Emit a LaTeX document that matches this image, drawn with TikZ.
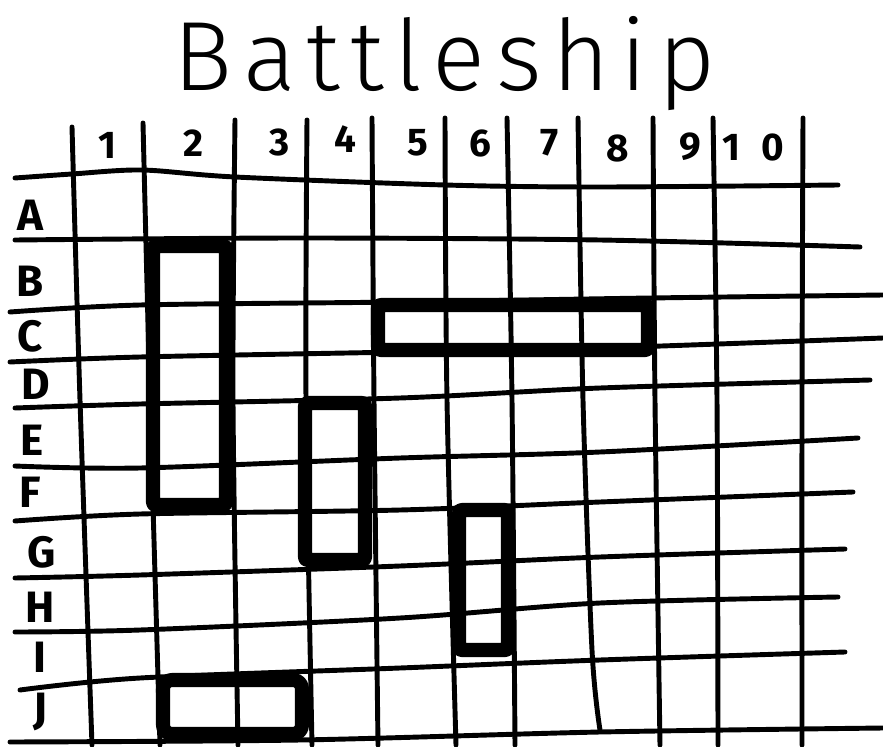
\documentclass[tikz,border=0pt]{standalone}
\usepackage{fontspec}
\setmainfont{Fira Sans}
\newfontfamily\titlefont{Fira Sans Light}

\begin{document}
\begin{tikzpicture}[x=0.02cm,y=-0.02cm,
  gridline/.style={line width=2.8pt,line cap=round,line join=round},
  shipbox/.style={line width=8pt,line join=round,rounded corners=1.5pt},
  collabel/.style={font={\bfseries\fontsize{22}{22}\selectfont},inner sep=0pt},
  rowlabel/.style={font={\bfseries\fontsize{25}{25}\selectfont},inner sep=0pt}
]
\useasboundingbox (0,0) rectangle (883,747);
\node[anchor=base west,inner sep=0pt,font={\titlefont\fontsize{56}{56}\selectfont\addfontfeature{LetterSpace=11}}] (title) at (173,90) {Battleship};

\draw[gridline] plot[smooth] coordinates {(15,178) (72,174) (142,170) (235,177) (445,185) (600,187) (838,185)};
\draw[gridline] plot[smooth] coordinates {(15,240) (300,238) (600,240) (860,247)};
\draw[gridline] plot[smooth] coordinates {(10,312) (140,305) (400,302) (650,298) (883,295)};
\draw[gridline] plot[smooth] coordinates {(10,362) (140,357) (400,352) (600,348) (883,338)};
\draw[gridline] plot[smooth] coordinates {(15,408) (140,404) (400,398) (600,388) (870,380)};
\draw[gridline] plot[smooth] coordinates {(15,466) (140,468) (400,458) (600,452) (858,438)};
\draw[gridline] plot[smooth] coordinates {(15,521) (140,514) (400,510) (600,502) (853,492)};
\draw[gridline] plot[smooth] coordinates {(15,578) (140,575) (400,566) (600,557) (845,549)};
\draw[gridline] plot[smooth] coordinates {(15,632) (140,630) (400,618) (600,603) (838,597)};
\draw[gridline] plot[smooth] coordinates {(20,690) (140,678) (400,668) (600,660) (845,652)};
\draw[gridline] plot[smooth] coordinates {(10,742) (300,740) (600,732) (883,728)};

\draw[gridline] plot[smooth] coordinates {(72,127) (80,400) (92,745)};
\draw[gridline] plot[smooth] coordinates {(143,123) (150,400) (160,745)};
\draw[gridline] plot[smooth] coordinates {(235,120) (233,400) (238,745)};
\draw[gridline] plot[smooth] coordinates {(307,120) (306,400) (312,745)};
\draw[gridline] plot[smooth] coordinates {(372,118) (374,400) (378,745)};
\draw[gridline] plot[smooth] coordinates {(445,118) (447,400) (456,745)};
\draw[gridline] plot[smooth] coordinates {(507,118) (512,400) (515,745)};
\draw[gridline] plot[smooth] coordinates {(578,118) (583,400) (592,650) (600,730)};
\draw[gridline] plot[smooth] coordinates {(653,118) (655,400) (660,745)};
\draw[gridline] plot[smooth] coordinates {(713,118) (717,400) (718,745)};
\draw[gridline] plot[smooth] coordinates {(803,118) (802,400) (802,745)};

\draw[shipbox] (153,246) rectangle (226,505);
\draw[shipbox] (378,305) rectangle (648,350);
\draw[shipbox] (305,403) rectangle (365,560);
\draw[shipbox] (459,510) rectangle (508,650);
\draw[shipbox,rounded corners=5pt] (163,680) rectangle (302,734);

\node[collabel] (c1) at (107,145) {1};
\node[collabel] (c2) at (193,143) {2};
\node[collabel] (c3) at (280,142) {3};
\node[collabel] (c4) at (345,139) {4};
\node[collabel] (c5) at (418,143) {5};
\node[collabel] (c6) at (480,143) {6};
\node[collabel] (c7) at (550,143) {7};
\node[collabel] (c8) at (618,148) {8};
\node[collabel] (c9) at (690,147) {9};
\node[collabel] (c10) at (753,147) {1\kern12pt0};

\node[rowlabel] (rA) at (30,215) {A};
\node[rowlabel] (rB) at (30,281) {B};
\node[rowlabel] (rC) at (30,336) {C};
\node[rowlabel] (rD) at (36,384) {D};
\node[rowlabel] (rE) at (32,440) {E};
\node[rowlabel] (rF) at (30,492) {F};
\node[rowlabel] (rG) at (42,552) {G};
\node[rowlabel] (rH) at (40,607) {H};
\node[rowlabel] (rI) at (40,657) {I};
\node[rowlabel] (rJ) at (40,712) {J};
\end{tikzpicture}
\end{document}
